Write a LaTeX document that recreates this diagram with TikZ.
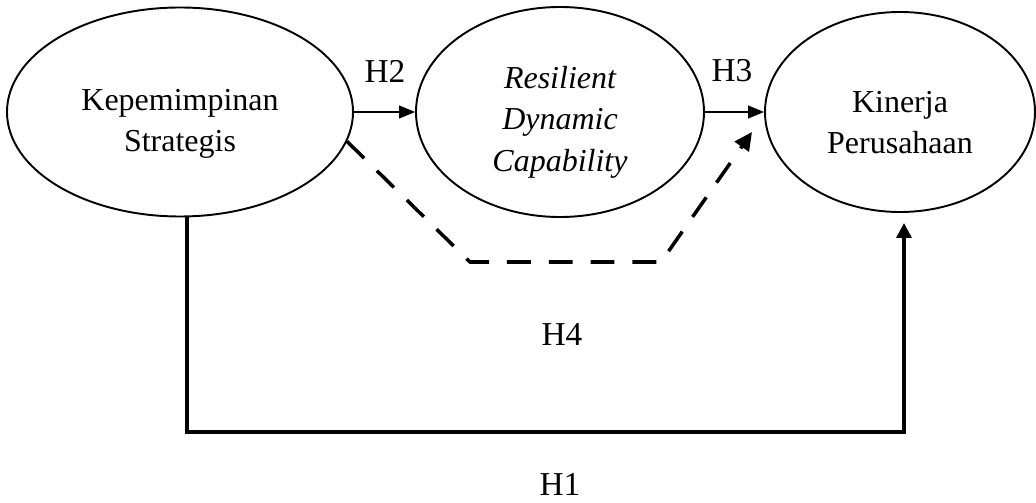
\documentclass[tikz,border=0pt]{standalone}
\usepackage{fontspec}
\setmainfont{Liberation Serif}
\usetikzlibrary{shapes.geometric,arrows.meta}
\begin{document}
\begin{tikzpicture}[
    variabel/.style={ellipse, draw=black, line width=1.1pt, inner sep=0pt, align=center,
      font=\fontsize{18.2}{23.5}\selectfont},
    miring/.style={font=\fontsize{18.2}{23.5}\selectfont\itshape},
    hipotesis/.style={font=\fontsize{19}{23}\selectfont},
    panah/.style={line width=0.7pt, -{Triangle[length=0.32cm, width=0.26cm]}},
    panahtebal/.style={line width=1.9pt, -{Triangle[length=0.3cm, width=0.3cm]}},
    panahputus/.style={line width=2pt, dash pattern=on 13.6pt off 10.2pt,
      -{Triangle[length=0.36cm, width=0.34cm]}}
  ]
  \useasboundingbox (0,0) rectangle (20.72,10.04);

  % Variabel penelitian
  \node[variabel, minimum width=6.92cm, minimum height=4.18cm] (kp) at (3.6,7.8) {\rule{0pt}{0.9cm}Kepemimpinan\\Strategis};
  \node[variabel, miring, minimum width=5.76cm, minimum height=4.2cm] (rdc) at (11.2,7.8) {\rule{0pt}{0.85cm}Resilient\\Dynamic\\Capability};
  \node[variabel, minimum width=5.4cm, minimum height=4.0cm] (kinerja) at (18.0,7.8) {\rule{0pt}{0.85cm}Kinerja\\Perusahaan};

  % Pengaruh langsung H2 dan H3
  \draw[panah] (kp.east) -- (rdc.west);
  \draw[panah] (rdc.east) -- (kinerja.west);
  \node[hipotesis] (lh2) at (7.7,8.62) {H2};
  \node[hipotesis] (lh3) at (14.64,8.62) {H3};

  % Mediasi H4
  \coordinate (putus1) at (9.4,4.8);
  \coordinate (putus2) at (13.22,4.8);
  \coordinate (putus3) at (15.04,7.4);
  \draw[panahputus] (kp.-10) -- (putus1) -- (putus2) -- (putus3);
  \node[hipotesis] (lh4) at (11.24,3.34) {H4};

  % Pengaruh langsung H1
  \coordinate (h1kiri) at (3.74,1.4);
  \coordinate (h1kanan) at (18.08,1.4);
  \coordinate (h1ujung) at (18.08,5.58);
  \draw[panahtebal] (kp.south -| h1kiri) -- (h1kiri) -- (h1kanan) -- (h1ujung);
  \node[hipotesis] (lh1) at (11.2,0.36) {H1};
\end{tikzpicture}
\end{document}
